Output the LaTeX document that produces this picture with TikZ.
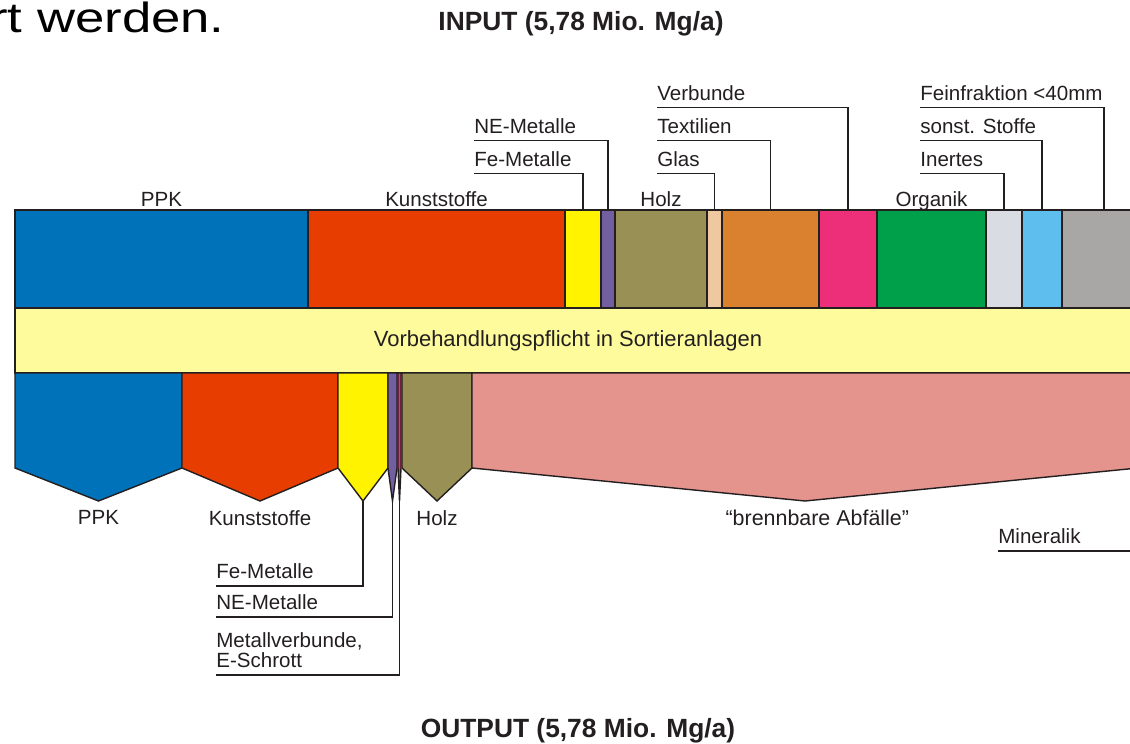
\documentclass[tikz,border=0pt]{standalone}
\usepackage{fontspec}
\setmainfont{Liberation Sans}

\definecolor{txtgray}{RGB}{35,31,32}
\definecolor{ppkblue}{RGB}{0,114,185}
\definecolor{kunstred}{RGB}{232,61,0}
\definecolor{feyellow}{RGB}{255,243,0}
\definecolor{nepurple}{RGB}{113,95,160}
\definecolor{holzolive}{RGB}{152,144,84}
\definecolor{glaspeach}{RGB}{240,200,160}
\definecolor{textorange}{RGB}{218,129,48}
\definecolor{verbpink}{RGB}{237,46,120}
\definecolor{orggreen}{RGB}{0,160,75}
\definecolor{inertgray}{RGB}{217,220,227}
\definecolor{sonstblue}{RGB}{94,190,238}
\definecolor{feingray}{RGB}{168,167,165}
\definecolor{bandyellow}{RGB}{253,251,156}
\definecolor{brennrose}{RGB}{228,148,140}

\newcommand{\inseg}[4]{% name, left, right, colour
    \draw[seg, fill=#4] (#2,\bartop) rectangle (#3,\barbot);
    \coordinate (#1) at ({(#2+#3)/2},\bartop);
}
\newcommand{\outseg}[4]{% name, left, right, colour
    \def\tipx{(#2+#3)/2}
    \draw[seg, fill=#4] (#2,\outtop) -- (#3,\outtop) -- (#3,\outside)
        -- ({\tipx},\outtip) -- (#2,\outside) -- cycle;
    \coordinate (#1) at ({\tipx},\outtip);
}

\begin{document}
\begin{tikzpicture}[x=0.02cm, y=-0.02cm,
    seg/.style={draw=txtgray, line width=0.8pt},
    lbl/.style={text=txtgray, font=\fontsize{11.7}{11.3}\selectfont, inner sep=0pt},
    tag/.style={lbl, anchor=south west, inner ysep=4pt, text depth=0pt, align=left},
    lead/.style={draw=txtgray, line width=0.8pt},
    ttl/.style={text=txtgray, font=\fontsize{15}{18}\selectfont\bfseries}]
    \def\bartop{210}
    \def\barbot{308}
    \def\outtop{373}
    \def\outside{468}
    \def\outtip{501}
    \def\rowa{107.5}
    \def\rowb{140.5}
    \def\rowc{173.5}

    \clip (0,0) rectangle (1130,744);

    \node[anchor=base east, inner sep=0pt, font=\fontsize{24}{28}\selectfont] (head) at (225,32)
        {\scalebox{1.25}[1]{rt werden.}};
    \node[ttl] (input) at (581,24) {INPUT (5,78 Mio. Mg/a)};
    \node[ttl] (output) at (578,731) {OUTPUT (5,78 Mio. Mg/a)};

    % input
    \inseg{iPPK}{15}{308}{ppkblue}
    \inseg{iKunst}{308}{565}{kunstred}
    \inseg{iFe}{565}{601}{feyellow}
    \inseg{iNE}{601}{615}{nepurple}
    \inseg{iHolz}{615}{707}{holzolive}
    \inseg{iGlas}{707}{722}{glaspeach}
    \inseg{iText}{722}{819}{textorange}
    \inseg{iVerb}{819}{877}{verbpink}
    \inseg{iOrg}{877}{986}{orggreen}
    \inseg{iInert}{986}{1022}{inertgray}
    \inseg{iSonst}{1022}{1062}{sonstblue}
    \inseg{iFein}{1062}{1146}{feingray}

    \node[lbl, anchor=base, yshift=2pt] (lPPK) at (iPPK) {PPK};
    \node[lbl, anchor=base, yshift=2pt] (lKunst) at (iKunst) {Kunststoffe};
    \node[lbl, anchor=base, yshift=2pt] (lHolz) at (iHolz) {Holz};
    \node[lbl, anchor=base, yshift=2pt] (lOrg) at (iOrg) {Organik};

    \node[tag] (tFe) at (474,\rowc) {Fe-Metalle};
    \node[tag] (tNE) at (474,\rowb) {NE-Metalle};
    \node[tag] (tGlas) at (657,\rowc) {Glas};
    \node[tag] (tText) at (657,\rowb) {Textilien};
    \node[tag] (tVerb) at (657,\rowa) {Verbunde};
    \node[tag] (tInert) at (920,\rowc) {Inertes};
    \node[tag] (tSonst) at (920,\rowb) {sonst. Stoffe};
    \node[tag] (tFein) at (920,\rowa) {Feinfraktion <40mm};
    \foreach \t/\s in {tFe/iFe, tNE/iNE, tGlas/iGlas, tText/iText,
                       tVerb/iVerb, tInert/iInert, tSonst/iSonst, tFein/iFein}
        \draw[lead] (\t.south west) -| (\s);

    % sorting band
    \draw[seg, fill=bandyellow] (15,\barbot) rectangle (1140,\outtop);
    \node[lbl, font=\fontsize{12.5}{14}\selectfont] (band) at (568,341)
        {Vorbehandlungspflicht in Sortieranlagen};

    % output
    \outseg{oPPK}{15}{182}{ppkblue}
    \outseg{oKunst}{182}{338}{kunstred}
    \outseg{oFe}{338}{388}{feyellow}
    \outseg{oNE}{388}{397}{nepurple}
    \outseg{oVerb}{398}{401}{verbpink}
    \outseg{oHolz}{402}{472}{holzolive}
    \outseg{oBrenn}{472}{1138}{brennrose}

    \node[lbl, anchor=north, yshift=-5pt] (bPPK) at (oPPK) {PPK};
    \node[lbl, anchor=north, yshift=-5pt] (bKunst) at (oKunst) {Kunststoffe};
    \node[lbl, anchor=north, yshift=-5pt] (bHolz) at (oHolz) {Holz};
    \node[lbl, anchor=north, yshift=-5pt, xshift=7pt, font=\fontsize{12.2}{14}\selectfont] (bBrenn) at (oBrenn) {“brennbare Abfälle”};

    \node[tag] (bFe) at (216,586) {Fe-Metalle};
    \node[tag] (bNE) at (216,617) {NE-Metalle};
    \node[tag] (bVerb) at (216,675) {Metallverbunde,\\E-Schrott};
    \draw[lead] (bFe.south west) -| (oFe);
    \draw[lead] (bNE.south west) -| (oNE);
    \draw[lead] (bVerb.south west) -| (oVerb);

    \node[tag] (bMin) at (998,551) {Mineralik};
    \coordinate (minEnd) at (1140,551);
    \draw[lead] (bMin.south west) -- (minEnd);
\end{tikzpicture}
\end{document}
